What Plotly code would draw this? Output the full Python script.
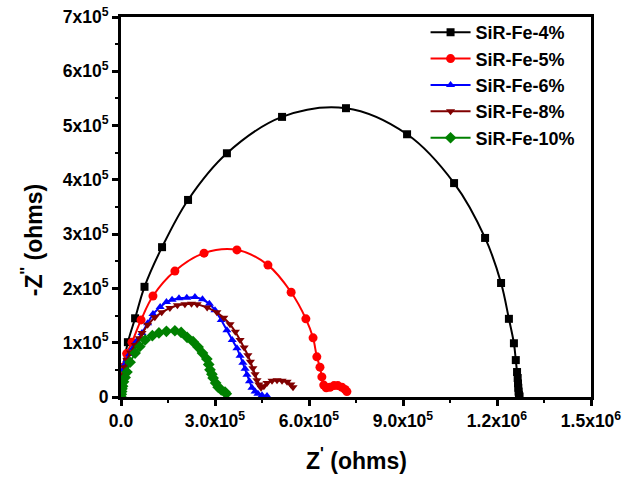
import plotly.graph_objects as go

# ---- data (Z' and -Z'' in units of 1e5 ohms) ----
fe4_x = [0.03, 0.22, 0.45, 0.75, 1.31, 2.14, 3.38, 5.14, 7.18, 9.13, 10.63, 11.62, 12.13, 12.38, 12.54,
         12.60, 12.64, 12.66, 12.67, 12.68, 12.69, 12.70, 12.72]
fe4_y = [0.45, 1.01, 1.45, 2.03, 2.76, 3.63, 4.49, 5.16, 5.32, 4.84, 3.94, 2.93, 2.10, 1.44, 0.99,
         0.68, 0.46, 0.35, 0.25, 0.17, 0.10, 0.04, 0.01]

fe5_x = [0.00, 0.05, 0.18, 0.35, 0.64, 1.02, 1.72, 2.65, 3.70, 4.69, 5.43, 5.90, 6.13, 6.25, 6.35,
         6.41, 6.47, 6.55, 6.67, 6.80, 6.92, 7.05, 7.15, 7.21]
fe5_y = [0.30, 0.55, 0.80, 1.01, 1.42, 1.86, 2.32, 2.65, 2.71, 2.43, 1.93, 1.44, 1.09, 0.74, 0.55,
         0.37, 0.22, 0.17, 0.18, 0.21, 0.21, 0.18, 0.14, 0.10]

fe6_x = [0.00, 0.01, 0.02, 0.04, 0.07, 0.12, 0.19, 0.28, 0.38, 0.50, 0.67, 0.85, 1.02, 1.25, 1.45,
         1.63, 1.85, 2.10, 2.36, 2.60, 2.82, 3.00, 3.20, 3.38, 3.55, 3.70, 3.80, 3.89, 3.96, 4.02,
         4.10, 4.18, 4.28, 4.37, 4.50, 4.66]
fe6_y = [0.00, 0.10, 0.22, 0.35, 0.50, 0.60, 0.68, 0.79, 0.90, 1.03, 1.18, 1.36, 1.53, 1.66, 1.75,
         1.79, 1.82, 1.83, 1.84, 1.80, 1.72, 1.60, 1.42, 1.23, 1.05, 0.90, 0.76, 0.63, 0.52, 0.41,
         0.29, 0.17, 0.10, 0.06, 0.03, 0.02]

fe8_x = [0.00, 0.01, 0.03, 0.06, 0.12, 0.19, 0.30, 0.45, 0.58, 0.67, 0.85, 1.08, 1.30, 1.56, 1.80,
         2.04, 2.25, 2.43, 2.75, 3.06, 3.28, 3.48, 3.65, 3.80, 3.93, 4.05, 4.13, 4.21, 4.28, 4.34,
         4.40, 4.47, 4.56, 4.66, 4.82, 4.98, 5.14, 5.30, 5.42, 5.49]
fe8_y = [0.05, 0.13, 0.27, 0.40, 0.55, 0.68, 0.82, 0.96, 1.08, 1.18, 1.33, 1.47, 1.56, 1.64, 1.69,
         1.71, 1.72, 1.71, 1.65, 1.56, 1.46, 1.34, 1.20, 1.05, 0.91, 0.77, 0.65, 0.53, 0.42, 0.31,
         0.23, 0.17, 0.20, 0.26, 0.30, 0.31, 0.30, 0.28, 0.23, 0.18]

fe10_x = [0.00, 0.01, 0.02, 0.03, 0.05, 0.08, 0.13, 0.19, 0.29, 0.45, 0.60, 0.77, 1.00, 1.21, 1.45,
          1.72, 1.92, 2.11, 2.30, 2.46, 2.60, 2.74, 2.80, 2.84, 2.90, 2.94, 3.02, 3.10, 3.20, 3.32, 3.36]
fe10_y = [0.00, 0.05, 0.10, 0.15, 0.20, 0.28, 0.36, 0.46, 0.64, 0.81, 0.93, 1.05, 1.13, 1.18, 1.21,
          1.22, 1.19, 1.10, 1.02, 0.92, 0.81, 0.70, 0.60, 0.50, 0.42, 0.35, 0.26, 0.18, 0.13, 0.09, 0.06]

series_names = ["SiR-Fe-4%", "SiR-Fe-5%", "SiR-Fe-6%", "SiR-Fe-8%", "SiR-Fe-10%"]
series_x = [fe4_x, fe5_x, fe6_x, fe8_x, fe10_x]
series_y = [fe4_y, fe5_y, fe6_y, fe8_y, fe10_y]
colors = ["#000000", "#FF0000", "#0000FF", "#800000", "#008000"]
symbols = ["square", "circle", "triangle-up", "triangle-down", "diamond"]
msizes = [8, 9, 8, 8, 9]
shapes = ["spline", "spline", "linear", "linear", "linear"]

x_tickvals = [0, 3e5, 6e5, 9e5, 1.2e6, 1.5e6]
x_ticktext = ["0.0", "3.0x10<sup>5</sup>", "6.0x10<sup>5</sup>", "9.0x10<sup>5</sup>",
              "1.2x10<sup>6</sup>", "1.5x10<sup>6</sup>"]
y_tickvals = [0, 1e5, 2e5, 3e5, 4e5, 5e5, 6e5, 7e5]
y_ticktext = ["0"] + [f"{i}x10<sup>5</sup>" for i in range(1, 8)]

SCALE = 1e5
FONT = "Arial, Liberation Sans, sans-serif"

fig = go.Figure()
for name, xs, ys, c, s, ms, sh in zip(series_names, series_x, series_y, colors, symbols, msizes, shapes):
    fig.add_trace(go.Scatter(
        x=[v * SCALE for v in xs], y=[v * SCALE for v in ys],
        mode="lines+markers", name=name,
        line=dict(color=c, width=2, shape=sh, smoothing=1.0),
        marker=dict(symbol=s, size=ms, color=c),
    ))

axis_common = dict(
    showline=True, linewidth=3, linecolor="black", mirror=True,
    ticks="outside", ticklen=6, tickwidth=2.5, tickcolor="black",
    showgrid=False, zeroline=False, automargin=False,
    tickfont=dict(family=FONT, size=17.5, color="black", weight="bold"),
)

fig.update_xaxes(range=[0, 1.5e6], tickmode="array", tickvals=x_tickvals, ticktext=x_ticktext,
                 minor=dict(ticks="outside", ticklen=3, tickwidth=2, tickcolor="black", dtick=1.5e5,
                            showgrid=False),
                 **axis_common)
fig.update_yaxes(range=[0, 7e5], tickmode="array", tickvals=y_tickvals, ticktext=y_ticktext,
                 minor=dict(ticks="outside", ticklen=3, tickwidth=2, tickcolor="black", dtick=0.5e5,
                            showgrid=False),
                 **axis_common)

fig.update_layout(
    width=627, height=481,
    margin=dict(l=121, r=36, t=17, b=84, autoexpand=False),
    paper_bgcolor="white", plot_bgcolor="white",
    showlegend=True,
    legend=dict(x=0.648, y=1.008, xanchor="left", yanchor="top",
                bgcolor="rgba(0,0,0,0)", borderwidth=0,
                font=dict(family=FONT, size=18, color="black", weight="bold"),
                tracegroupgap=0, itemwidth=40),
    annotations=[
        dict(text="Z<sup>'</sup> (ohms)", xref="paper", yref="paper", x=0.5, y=-0.163,
             xanchor="center", yanchor="middle", showarrow=False,
             font=dict(family=FONT, size=23, color="black", weight="bold")),
        dict(text="-Z<sup>''</sup> (ohms)", xref="paper", yref="paper", x=-0.189, y=0.413,
             xanchor="center", yanchor="middle", showarrow=False, textangle=-90,
             font=dict(family=FONT, size=23, color="black", weight="bold")),
    ],
)

fig.write_html("out.html", config={"displayModeBar": False},
               post_script="document.body.style.margin='0';")
